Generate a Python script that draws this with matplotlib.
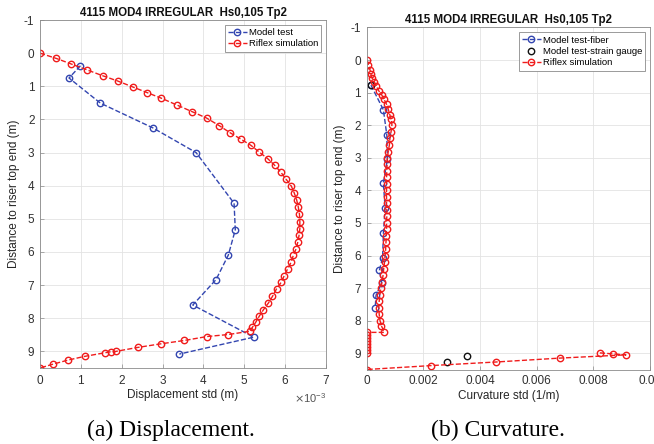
import numpy as np
import matplotlib
matplotlib.use("Agg")
import matplotlib.pyplot as plt
from matplotlib.ticker import ScalarFormatter, FixedLocator

plt.rcParams['font.family'] = ['Liberation Sans', 'DejaVu Sans']
plt.rcParams['axes.unicode_minus'] = False

# ---------------- data ----------------
title_txt = "4115 MOD4 IRREGULAR  Hs0,105 Tp2"

# (a) displacement std (m) vs distance to riser top end (m)
disp_test_y = [0.38, 0.75, 1.51, 2.26, 3.00, 4.53, 5.33, 6.09, 6.83, 7.60, 8.57, 9.08]
disp_test_x = [0.99e-3, 0.71e-3, 1.48e-3, 2.77e-3, 3.82e-3, 4.75e-3, 4.78e-3, 4.61e-3,
               4.31e-3, 3.74e-3, 5.23e-3, 3.41e-3]

disp_sim_y = [0.00, 0.16, 0.33, 0.50, 0.68, 0.84, 1.02, 1.19, 1.36, 1.57, 1.77, 1.96,
              2.19, 2.40, 2.59, 2.78, 2.99, 3.18, 3.38, 3.60, 3.80, 4.01, 4.21, 4.42,
              4.63, 4.86, 5.08, 5.30, 5.50, 5.70, 5.90, 6.10, 6.30, 6.51, 6.71, 6.92,
              7.11, 7.34, 7.54, 7.74, 7.93, 8.12, 8.27, 8.39, 8.49, 8.55, 8.67, 8.77,
              8.88, 9.00, 9.01, 9.04, 9.15, 9.26, 9.38, 9.50]
disp_sim_x = [0.00, 0.40, 0.77, 1.14, 1.53, 1.90, 2.27, 2.62, 2.97, 3.36, 3.73, 4.08,
              4.39, 4.65, 4.91, 5.16, 5.37, 5.57, 5.74, 5.90, 6.02, 6.15, 6.22, 6.28,
              6.32, 6.35, 6.36, 6.36, 6.34, 6.31, 6.27, 6.20, 6.15, 6.06, 5.98, 5.90,
              5.79, 5.69, 5.59, 5.47, 5.37, 5.28, 5.20, 5.14, 4.61, 4.09, 3.53, 2.96,
              2.39, 1.85, 1.73, 1.59, 1.09, 0.69, 0.33, 0.00]
disp_sim_x = [v * 1e-3 for v in disp_sim_x]

# (b) curvature std (1/m) vs distance to riser top end (m)
curv_fiber_y = [0.77, 1.53, 2.30, 3.03, 3.78, 4.55, 5.32, 6.08, 6.45, 6.84, 7.22, 7.60]
curv_fiber_x = [0.00015, 0.00059, 0.00071, 0.00073, 0.00059, 0.00065, 0.00059, 0.00056,
                0.00045, 0.00053, 0.00033, 0.00030]

curv_gauge_y = [0.78, 9.27, 9.09]
curv_gauge_x = [0.00015, 0.00285, 0.00355]

curv_sim_y = [0.00, 0.15, 0.31, 0.44, 0.56, 0.68, 0.79, 0.95, 1.07, 1.20, 1.36, 1.51,
              1.69, 1.81, 1.99, 2.20, 2.40, 2.61, 2.81, 3.02, 3.20, 3.40, 3.60, 3.80,
              4.00, 4.20, 4.40, 4.60, 4.80, 5.00, 5.20, 5.40, 5.60, 5.80, 6.00, 6.20,
              6.40, 6.60, 6.80, 7.00, 7.20, 7.40, 7.60, 7.80, 8.00, 8.16, 8.36,
              8.36, 8.45, 8.54, 8.64, 8.73, 8.82, 8.91, 9.00, np.nan,
              8.99, 9.02, 9.05, 9.15, 9.27, 9.38, 9.50]
curv_sim_x = [0.00000, 0.00006, 0.00012, 0.00015, 0.00020, 0.00027, 0.00033, 0.00043,
              0.00053, 0.00061, 0.00070, 0.00076, 0.00082, 0.00087, 0.00089, 0.00086,
              0.00082, 0.00080, 0.00076, 0.00073, 0.00072, 0.00071, 0.00070, 0.00070,
              0.00070, 0.00070, 0.00070, 0.00071, 0.00071, 0.00070, 0.00070, 0.00069,
              0.00068, 0.00067, 0.00065, 0.00063, 0.00060, 0.00058, 0.00054, 0.00050,
              0.00047, 0.00044, 0.00043, 0.00044, 0.00047, 0.00052, 0.00062,
              0.0, 0.0, 0.0, 0.0, 0.0, 0.0, 0.0, 0.0, np.nan,
              0.00823, 0.00868, 0.00915, 0.00682, 0.00456, 0.00227, 0.00000]

yticks = list(range(-1, 10))
disp_xticks = [0, 1e-3, 2e-3, 3e-3, 4e-3, 5e-3, 6e-3, 7e-3]
curv_xticks = [0, 0.002, 0.004, 0.006, 0.008, 0.01]
curv_xticklabels = ["0", "0.002", "0.004", "0.006", "0.008", "0.01"]

# ---------------- style ----------------
BLUE = '#3346b0'
RED = '#f01c1c'
BLACK = '#111111'
TICK_FS = 8.5
ms = 4.6
lw = 1.0

fig = plt.figure(figsize=(6.54, 4.44), dpi=100)
axA = fig.add_axes([40/654, 1 - 368/444, 286/654, 348/444])
axB = fig.add_axes([366.7/654, 1 - 369.5/444, 283.3/654, 342/444])


def style(ax):
    ax.set_ylim(9.5, -1)
    ax.yaxis.set_major_locator(FixedLocator(yticks))
    ax.grid(True, color='#e3e3e3', linewidth=0.6)
    ax.set_axisbelow(True)
    for s in ax.spines.values():
        s.set_color('#8a8a8a')
        s.set_linewidth(0.6)
    ax.tick_params(direction='in', length=3, width=0.5, colors='#8a8a8a',
                   labelcolor='#303030', labelsize=TICK_FS, pad=4)
    ax.set_ylabel("Distance to riser top end (m)", fontsize=8.5, color='#262626', labelpad=3)
    ax.set_title(title_txt, fontsize=8.3, fontweight='bold', color='#111111', pad=3)


# (a)
axA.plot(disp_test_x, disp_test_y, '--o', color=BLUE, mfc='none', ms=ms, lw=lw,
         mew=1.0, label='Model test')
axA.plot(disp_sim_x, disp_sim_y, '--o', color=RED, mfc='none', ms=ms, lw=lw,
         mew=1.0, label='Riflex simulation')
axA.set_xlim(0, 7e-3)
axA.xaxis.set_major_locator(FixedLocator(disp_xticks))
fmt = ScalarFormatter(useMathText=True)
fmt.set_powerlimits((-3, -3))
axA.xaxis.set_major_formatter(fmt)
style(axA)
axA.xaxis.get_offset_text().set_fontsize(8)
axA.xaxis.get_offset_text().set_color('#555555')
axA.set_xlabel("Displacement std (m)", fontsize=8.5, color='#262626', labelpad=2)
legA = axA.legend(loc='upper right', fontsize=6.8, handlelength=2.0, handletextpad=0.2,
                  borderpad=0.35, labelspacing=0.25, borderaxespad=0.5,
                  fancybox=False, framealpha=1, edgecolor='#8a8a8a')
legA.get_frame().set_linewidth(0.6)

# (b)
axB.plot(curv_fiber_x, curv_fiber_y, '--o', color=BLUE, mfc='none', ms=ms, lw=lw,
         mew=1.0, label='Model test-fiber')
axB.plot(curv_gauge_x, curv_gauge_y, 'o', color=BLACK, mfc='none', ms=ms, mew=1.0,
         label='Model test-strain gauge')
axB.plot(curv_sim_x, curv_sim_y, '--o', color=RED, mfc='none', ms=ms, lw=lw,
         mew=1.0, label='Riflex simulation')
axB.set_xlim(0, 0.01)
axB.xaxis.set_major_locator(FixedLocator(curv_xticks))
axB.set_xticklabels(curv_xticklabels)
style(axB)
axB.set_xlabel("Curvature std (1/m)", fontsize=8.5, color='#262626', labelpad=2)
legB = axB.legend(loc='upper right', fontsize=6.8, handlelength=2.0, handletextpad=0.2,
                  borderpad=0.35, labelspacing=0.25, borderaxespad=0.5,
                  fancybox=False, framealpha=1, edgecolor='#8a8a8a')
legB.get_frame().set_linewidth(0.6)

# captions
fig.text(171/654, 1 - 430/444, "(a) Displacement.", ha='center', va='center',
         fontsize=17, family=['Liberation Serif', 'DejaVu Serif'])
fig.text(497.5/654, 1 - 430/444, "(b) Curvature.", ha='center', va='center',
         fontsize=17, family=['Liberation Serif', 'DejaVu Serif'])

fig.savefig("out.png", dpi=100)
